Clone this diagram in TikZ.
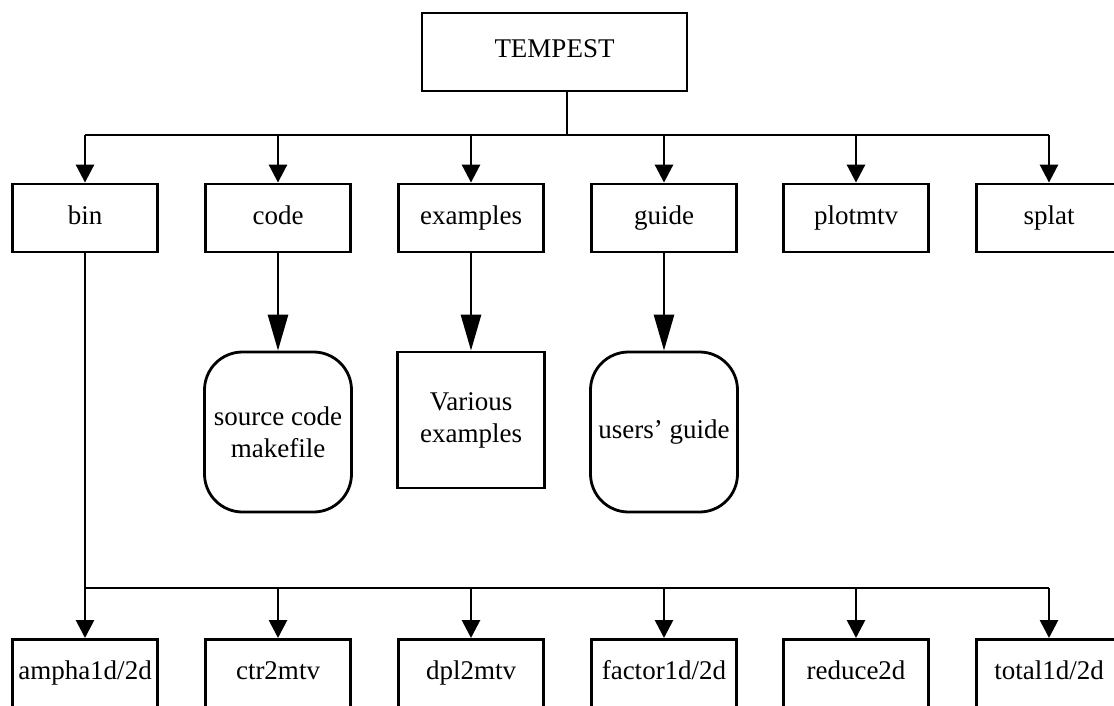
\documentclass[tikz,border=0pt]{standalone}
\usepackage{fontspec}
\setmainfont{Liberation Serif}
\usetikzlibrary{arrows.meta}

\tikzset{
  dirbox/.style = {draw, line width=1.4pt, minimum width=72.5pt, minimum height=34pt, inner sep=0pt,
                   text height=9pt, text depth=3pt},
  leafbox/.style = {draw, line width=1.4pt, minimum width=72.5pt, inner xsep=0pt, inner ysep=10pt,
                    text height=10pt, text depth=30pt, anchor=north},
  filebox/.style = {draw, line width=1.4pt, minimum width=73.5pt, minimum height=80pt, align=center, inner sep=0pt},
  bus/.style = {line width=1.4pt},
  branch/.style = {line width=1.4pt, -{Triangle[length=9pt,width=9pt]}},
  bigbranch/.style = {line width=1.4pt, -{Triangle[length=18pt,width=10pt]}},
}

\begin{document}
\begin{tikzpicture}[x=0.5pt, y=-0.5pt, font=\fontsize{13.5}{16}\selectfont]
\useasboundingbox (0,0) rectangle (1114,706);
\clip (0,0) rectangle (1114,706);

\node[dirbox, minimum width=132.5pt, minimum height=39pt] (tempest) at (554.5,52) {TEMPEST};

% first level
\node[dirbox] (bin)      at (85,218)    {bin};
\node[dirbox] (code)     at (278,218)   {code};
\node[dirbox] (examples) at (471,218)   {examples};
\node[dirbox] (guide)    at (664,218)   {guide};
\node[dirbox] (plotmtv)  at (856,218)   {plotmtv};
\node[dirbox] (splat)    at (1049,218)  {splat};

% contents
\node[filebox, rounded corners=19pt] (srcfile)    at (278,432) {source code\\makefile};
\node[filebox, minimum height=68pt] (various)     at (471,420) {Various\\examples};
\node[filebox, rounded corners=19pt] (usersguide) at (664,432) {users’ guide};

% programs in bin
\node[leafbox] (ampha)  at (85,638)   {ampha1d/2d};
\node[leafbox] (ctr)    at (278,638)  {ctr2mtv};
\node[leafbox] (dpl)    at (471,638)  {dpl2mtv};
\node[leafbox] (factor) at (664,638)  {factor1d/2d};
\node[leafbox] (reduce) at (856,638)  {reduce2d};
\node[leafbox] (total)  at (1049,638) {total1d/2d};

\coordinate (topbus) at (567,135);
\coordinate (lowbus) at (85,588);

\draw[bus] (tempest.south -| topbus) -- (topbus);
\draw[bus] (bin.north |- topbus) -- (splat.north |- topbus);
\foreach \d in {bin,code,examples,guide,plotmtv,splat}
  \draw[branch] (\d.north |- topbus) -- (\d.north);

\draw[bigbranch] (code) -- (srcfile);
\draw[bigbranch] (examples) -- (various);
\draw[bigbranch] (guide) -- (usersguide);

\draw[bus] (bin.south) -- (lowbus) -- (total.north |- lowbus);
\foreach \p in {ampha,ctr,dpl,factor,reduce,total}
  \draw[branch] (\p.north |- lowbus) -- (\p.north);
\end{tikzpicture}
\end{document}
